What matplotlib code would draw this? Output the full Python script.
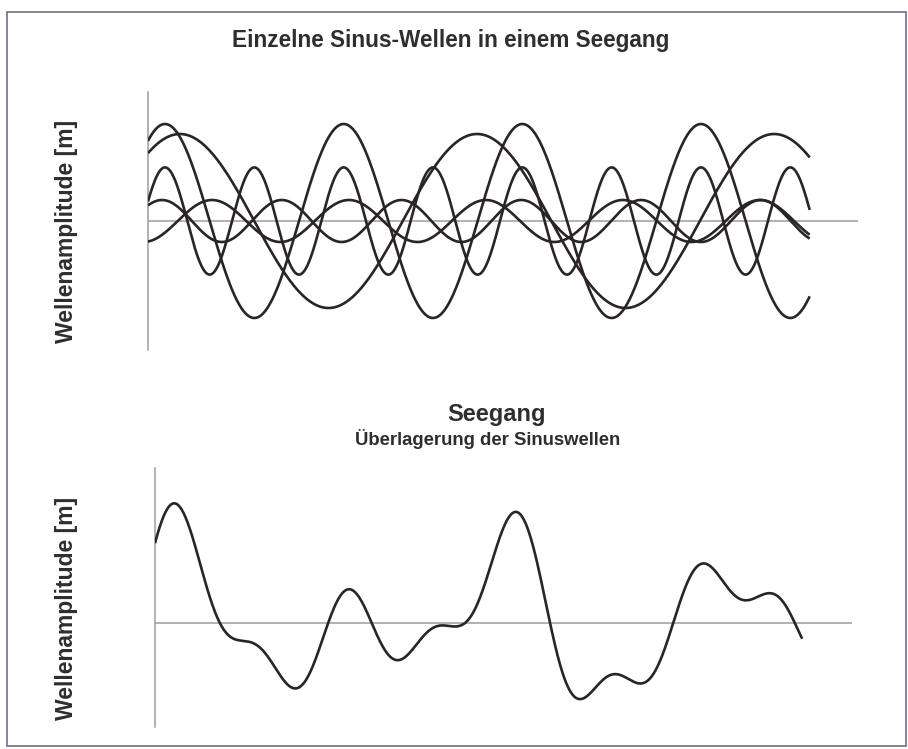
import numpy as np
import matplotlib.pyplot as plt
from matplotlib.patches import Rectangle

plt.rcParams['font.family'] = ['Liberation Sans', 'DejaVu Sans']

# Sinus-Wellen (x: 0..100, Amplitude in m)
amplituden = [4.85, 4.35, 2.68, 1.05, 1.05]
wellenlaengen = [27.0, 44.9, 13.5, 20.7, 18.1]
wellenberge = [2.57, 4.83, 2.57, 9.67, 2.11]   # Lage eines Wellenbergs

titel_oben = 'Einzelne Sinus-Wellen in einem Seegang'
titel_unten = 'Seegang'
untertitel = 'Überlagerung der Sinuswellen'
ylabel = 'Wellenamplitude [m]'

linie = '#2b2427'
achse = '#9c9c9c'
text = '#2e2e2e'

x = np.linspace(0, 100, 1200)

fig = plt.figure(figsize=(9.08, 7.49), dpi=100)

ax1 = fig.add_axes([148/908, 1-350/749, (858-148)/908, (350-92)/749])
ax2 = fig.add_axes([155/908, 1-727/749, (852-155)/908, (727-468)/749])

summe = np.zeros_like(x)
for a, l, b in zip(amplituden, wellenlaengen, wellenberge):
    y = a*np.cos(2*np.pi*(x-b)/l)
    summe = summe + y
    ax1.plot(x, y, color=linie, lw=1.9, zorder=3, solid_capstyle='butt')

ax2.plot(x, summe, color=linie, lw=1.9, zorder=3, solid_capstyle='butt')

ax1.set_xlim(0, 107.3); ax1.set_ylim(-6.45, 6.45)
ax2.set_xlim(0, 107.7); ax2.set_ylim(-10.6, 15.8)

for ax in [ax1, ax2]:
    ax.axhline(0, color=achse, lw=1.1, zorder=1)
    for s in ['top', 'right', 'bottom']:
        ax.spines[s].set_visible(False)
    ax.spines['left'].set_color(achse)
    ax.spines['left'].set_linewidth(1.1)
    ax.set_xticks([]); ax.set_yticks([])
    ax.patch.set_alpha(0)

fig.text(232/908, 1-41/749, titel_oben, ha='left', va='center', fontsize=16.3, fontweight='bold', color=text)
fig.text(447/908, 1-415/749, titel_unten, ha='left', va='center', fontsize=17, fontweight='bold', color=text)
fig.text(355/908, 1-439/749, untertitel, ha='left', va='center', fontsize=13.3, fontweight='bold', color=text)

fig.text(66/908, 1-343/749, ylabel, rotation=90, ha='center', va='bottom', fontsize=16.5, fontweight='bold', color=text)
fig.text(66/908, 1-720/749, ylabel, rotation=90, ha='center', va='bottom', fontsize=16.5, fontweight='bold', color=text)

# Rahmen um alles
fig.patches.append(Rectangle((7/908, 1-746/749), (906-7)/908, (746-12)/749, transform=fig.transFigure,
                             fill=False, edgecolor='#6b7186', lw=1.2))

plt.savefig('out.png', dpi=100)
